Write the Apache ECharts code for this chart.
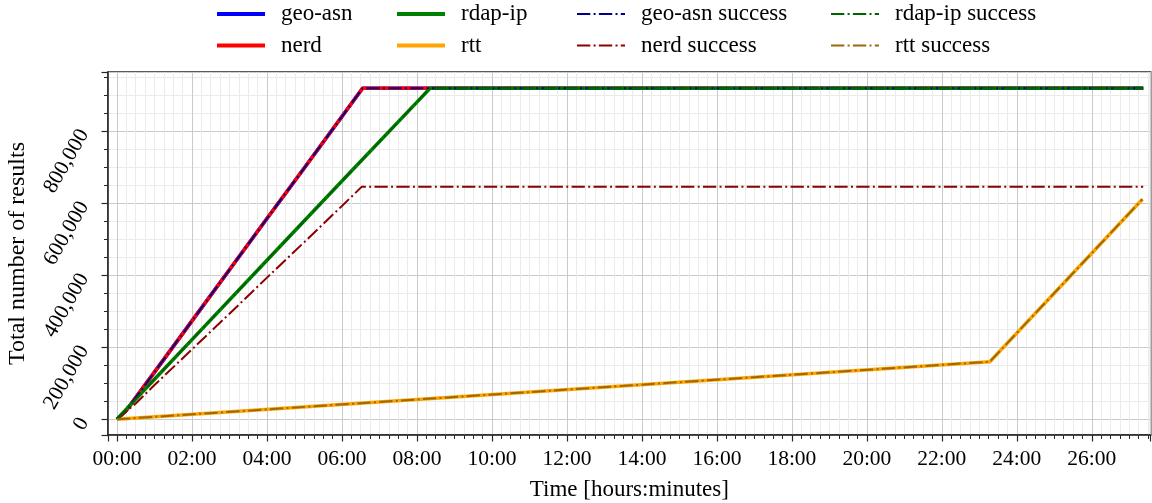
<!DOCTYPE html>
<html><head><meta charset="utf-8">
<script src="https://cdn.jsdelivr.net/npm/echarts@6/dist/echarts.min.js"></script>
<style>html,body{margin:0;padding:0;background:#fff}#c{width:1152px;height:503px}</style>
</head><body><div id="c"></div>
<script>
// ---- data (time in hours, value = cumulative number of results) ----
const seriesNames = ['geo-asn', 'nerd', 'rdap-ip', 'rtt', 'geo-asn success', 'nerd success', 'rdap-ip success', 'rtt success'];

const geoAsnHours  = [0, 0.25, 0.5, 1, 2, 3, 4, 5, 6, 6.55, 27.37];
const geoAsnValues = [0, 25000, 60000, 131000, 273000, 415000, 557000, 698000, 840000, 918500, 918500];

const nerdHours  = [0, 0.25, 0.5, 1, 2, 3, 4, 5, 6, 6.55, 27.37];
const nerdValues = [0, 25000, 60000, 131000, 273000, 415000, 557000, 698000, 840000, 918500, 918500];

const rdapIpHours  = [0, 0.5, 1, 2, 4, 6, 8, 8.35, 27.37];
const rdapIpValues = [0, 56000, 111000, 221000, 441000, 661000, 880000, 918500, 918500];

const rttHours  = [0, 23.28, 27.35];
const rttValues = [0, 159800, 610500];

const geoAsnSuccessHours  = [0, 0.25, 0.5, 1, 2, 3, 4, 5, 6, 6.55, 27.37];
const geoAsnSuccessValues = [0, 25000, 60000, 131000, 273000, 415000, 557000, 698000, 840000, 918500, 918500];

const nerdSuccessHours  = [0, 0.5, 1, 2, 3, 4, 5, 6, 6.53, 27.37];
const nerdSuccessValues = [0, 44000, 95000, 194000, 293000, 393000, 492000, 592000, 645500, 645500];

const rdapIpSuccessHours  = [0, 0.5, 1, 2, 4, 6, 8, 8.35, 27.37];
const rdapIpSuccessValues = [0, 56000, 111000, 221000, 441000, 661000, 880000, 918500, 918500];

const rttSuccessHours  = [0, 23.28, 27.35];
const rttSuccessValues = [0, 159800, 610500];

// ---- build ----
const hoursList  = [geoAsnHours, nerdHours, rdapIpHours, rttHours, geoAsnSuccessHours, nerdSuccessHours, rdapIpSuccessHours, rttSuccessHours];
const valuesList = [geoAsnValues, nerdValues, rdapIpValues, rttValues, geoAsnSuccessValues, nerdSuccessValues, rdapIpSuccessValues, rttSuccessValues];
const colors = ['#0000ff', '#ff0000', '#008000', '#ffa500', '#00008b', '#8b0000', '#006400', '#9c6908'];

const FONT = '"Liberation Serif", "Times New Roman", serif';
const DASHDOT = [13.3, 3.3, 2, 3.3];
const dashIcon = 'path://M0,0H13.3V2H0Z M16.6,0H18.6V2H16.6Z M21.9,0H35.2V2H21.9Z M38.5,0H40.5V2H38.5Z M43.8,0H48V2H43.8Z';

const series = seriesNames.map((name, i) => ({
  name: name,
  type: 'line',
  data: hoursList[i].map((h, k) => [h, valuesList[i][k]]),
  showSymbol: false,
  symbol: 'none',
  silent: true,
  animation: false,
  emphasis: { disabled: true },
  color: colors[i],
  lineStyle: i < 4
    ? { color: colors[i], width: 3.6, type: 'solid', join: 'round' }
    : { color: colors[i], width: 2, type: DASHDOT, cap: 'butt' }
}));

const legendLefts = [217, 397, 577, 831];
const legendTops = [2.5, 34];
const legends = seriesNames.map((name, i) => ({
  data: [{ name: name, icon: i < 4 ? 'rect' : dashIcon }],
  left: legendLefts[Math.floor(i / 2)],
  top: legendTops[i % 2],
  padding: 0,
  itemWidth: 48,
  itemHeight: i < 4 ? 4 : 2,
  selectedMode: false,
  itemStyle: { borderWidth: 0 },
  textStyle: { fontFamily: FONT, fontSize: 23, color: '#000', padding: [0, 0, 0, 11] }
}));

const axisCol = '#262626';
const chart = echarts.init(document.getElementById('c'), null, { renderer: 'canvas' });
chart.setOption({
  animation: false,
  backgroundColor: '#fff',
  legend: legends,
  grid: { left: 108, top: 72, width: 1042.7, height: 363, show: true, borderColor: axisCol, borderWidth: 1.5, backgroundColor: 'transparent', containLabel: false, outerBoundsMode: 'none' },
  xAxis: {
    type: 'value',
    min: -0.24, max: 27.57,
    splitNumber: 14, minInterval: 2, maxInterval: 2,
    name: 'Time [hours:minutes]', nameLocation: 'middle', nameGap: 43.5,
    nameTextStyle: { fontFamily: FONT, fontSize: 23, color: '#000' },
    axisLine: { show: true, onZero: false, lineStyle: { color: axisCol, width: 1.5 } },
    axisTick: { show: true, length: 6.5, lineStyle: { color: axisCol, width: 1.2 } },
    minorTick: { show: true, splitNumber: 8, length: 4, lineStyle: { color: axisCol, width: 1 } },
    splitLine: { show: true, lineStyle: { color: '#cacaca', width: 1 } },
    minorSplitLine: { show: true, lineStyle: { color: '#ebebeb', width: 1 } },
    axisLabel: {
      margin: 13, showMinLabel: false, showMaxLabel: false,
      fontFamily: FONT, fontSize: 21.5, color: '#000',
      formatter: v => (v < 10 ? '0' : '') + v + ':00'
    }
  },
  yAxis: {
    type: 'value',
    min: -43600, max: 963600,
    splitNumber: 5, minInterval: 200000, maxInterval: 200000,
    name: 'Total number of results', nameLocation: 'middle', nameGap: 73, nameRotate: 90,
    nameTextStyle: { fontFamily: FONT, fontSize: 24, color: '#000' },
    axisLine: { show: true, onZero: false, lineStyle: { color: axisCol, width: 1.5 } },
    axisTick: { show: true, length: 6.5, lineStyle: { color: axisCol, width: 1.2 } },
    minorTick: { show: true, splitNumber: 4, length: 4, lineStyle: { color: axisCol, width: 1 } },
    splitLine: { show: true, lineStyle: { color: '#cacaca', width: 1 } },
    minorSplitLine: { show: true, lineStyle: { color: '#ebebeb', width: 1 } },
    axisLabel: {
      margin: 24, rotate: 60, showMinLabel: false, showMaxLabel: false,
      fontFamily: FONT, fontSize: 21.5, color: '#000',
      formatter: v => String(v).replace(/\B(?=(\d{3})+(?!\d))/g, ',')
    }
  },
  series: series
});
</script>
</body></html>
